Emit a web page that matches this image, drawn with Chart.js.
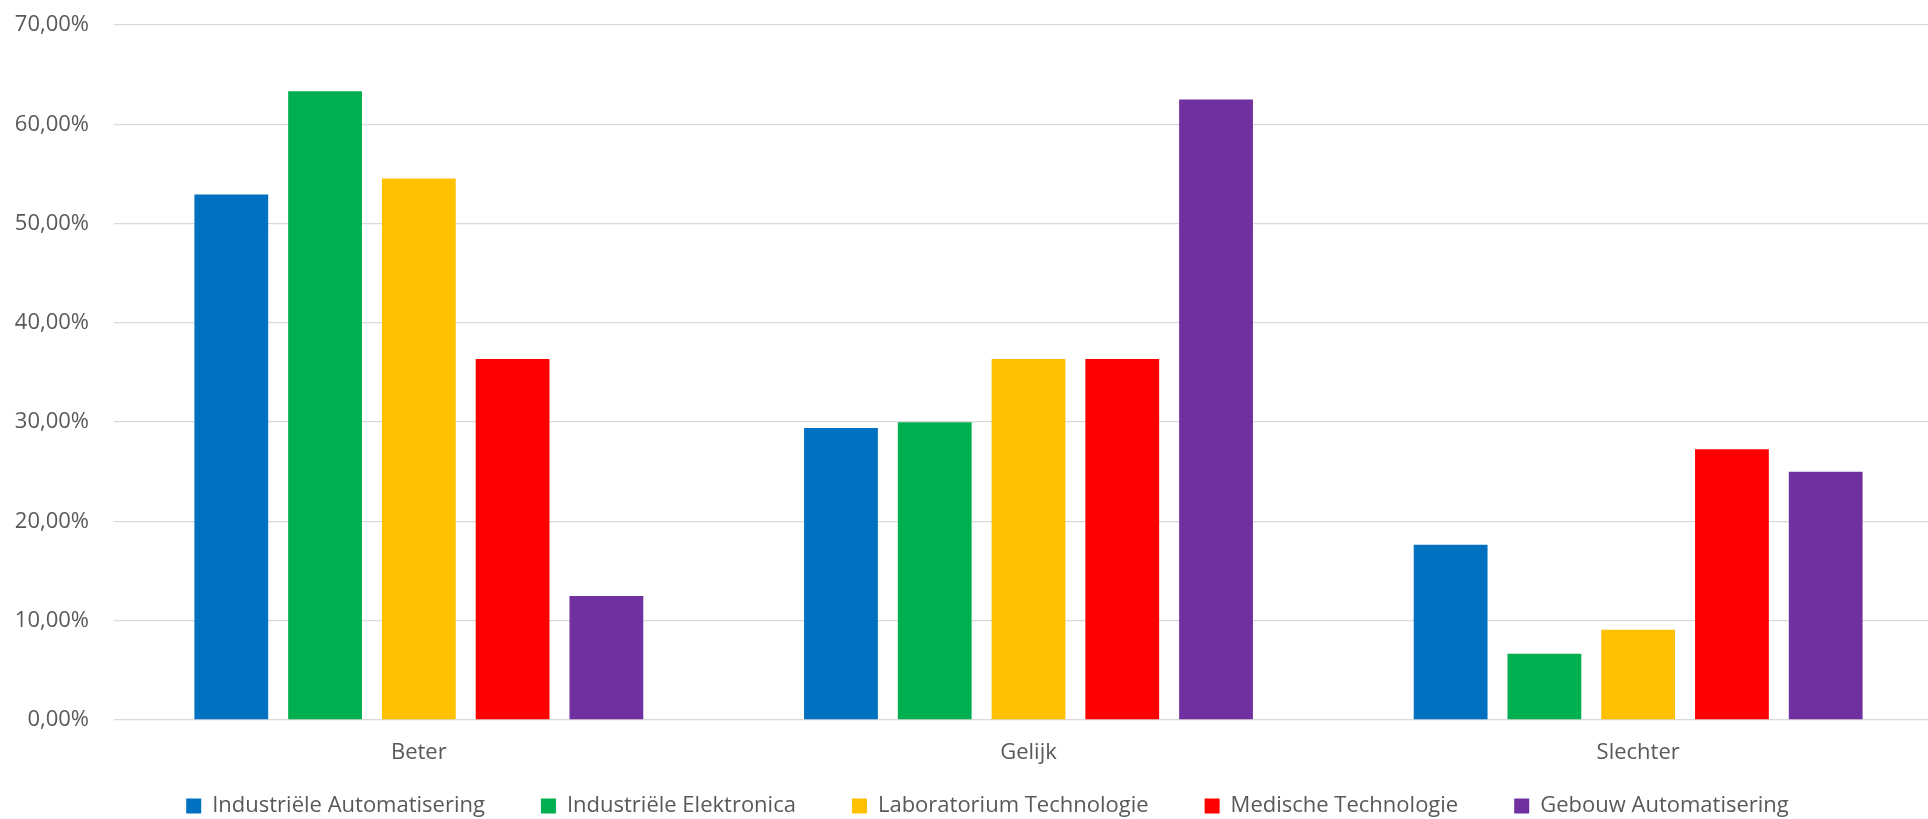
<!DOCTYPE html>
<html>
<head>
<meta charset="utf-8">
<script src="https://cdn.jsdelivr.net/npm/chart.js@4/dist/chart.umd.min.js"></script>
<style>
html, body { margin: 0; padding: 0; background: #ffffff; overflow: hidden; }
#wrap { width: 1943px; height: 819px; }
</style>
</head>
<body>
<div id="wrap"><canvas id="c" width="1943" height="819"></canvas></div>
<script>
const categories = ['Beter', 'Gelijk', 'Slechter'];
const seriesNames = ['Industriële Automatisering', 'Industriële Elektronica', 'Laboratorium Technologie', 'Medische Technologie', 'Gebouw Automatisering'];
const industrieleAutomatisering = [52.94, 29.41, 17.65];
const industrieleElektronica = [63.33, 30.00, 6.67];
const laboratoriumTechnologie = [54.55, 36.36, 9.09];
const medischeTechnologie = [36.36, 36.36, 27.27];
const gebouwAutomatisering = [12.50, 62.50, 25.00];
const yTickLabels = ['0,00%', '10,00%', '20,00%', '30,00%', '40,00%', '50,00%', '60,00%', '70,00%'];
const seriesColors = ['#0070C0', '#00B050', '#FFC000', '#FF0000', '#7030A0'];

const seriesValues = [industrieleAutomatisering, industrieleElektronica, laboratoriumTechnologie, medischeTechnologie, gebouwAutomatisering];
const textColor = '#595959';
const font = { family: '"Open Sans", sans-serif', size: 22 };

new Chart(document.getElementById('c'), {
  type: 'bar',
  data: {
    labels: categories,
    datasets: seriesNames.map((name, i) => ({
      label: name,
      data: seriesValues[i],
      backgroundColor: seriesColors[i],
      borderWidth: 0,
      categoryPercentage: 0.769,
      barPercentage: 0.787
    }))
  },
  options: {
    responsive: false,
    animation: false,
    devicePixelRatio: 1,
    layout: { padding: { top: 25, left: 32, right: 0, bottom: 0 } },
    plugins: {
      tooltip: { enabled: false },
      legend: {
        position: 'bottom',
        maxHeight: 80,
        labels: {
          color: textColor,
          font: font,
          boxWidth: 15,
          boxHeight: 15,
          padding: 56
        }
      }
    },
    scales: {
      x: {
        grid: { display: false, drawTicks: false },
        border: { display: false },
        ticks: { color: textColor, font: font, padding: 20 },
        afterFit: (axis) => {
          axis.height = 19;
          axis.paddingLeft = 0;
          axis.paddingRight = 0;
          axis._computeLabelArea = () => undefined;
        }
      },
      y: {
        min: 0,
        max: 70,
        grid: { color: '#d9d9d9', lineWidth: 1.3, drawTicks: false },
        border: { display: false },
        ticks: {
          stepSize: 10,
          color: textColor,
          font: font,
          padding: 25,
          callback: (value, index) => yTickLabels[index]
        },
        afterFit: (axis) => {
          axis.width = 82;
          axis.paddingTop = 0;
          axis.paddingBottom = 0;
          axis._computeLabelArea = () => undefined;
        }
      }
    }
  }
});
</script>
</body>
</html>
